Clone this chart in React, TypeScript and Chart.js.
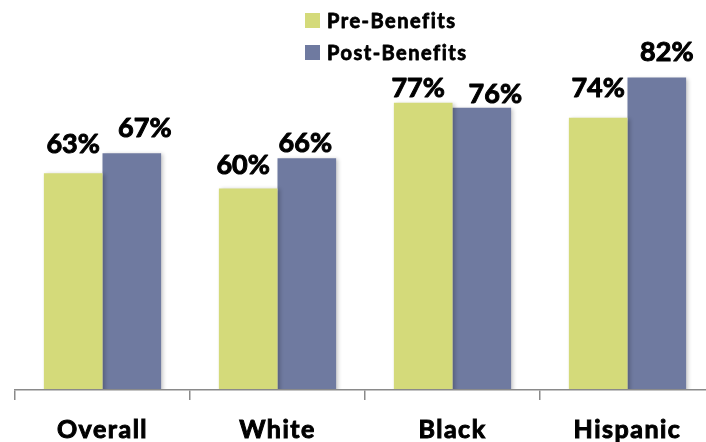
import React, { useEffect, useRef } from "react";
import { Chart, registerables } from "chart.js";

Chart.register(...registerables);

// Group names along the bottom axis
const categories = ["Overall", "White", "Black", "Hispanic"];
// Share (%) before and after benefits
const preBenefits = [63, 60, 77, 74];
const postBenefits = [67, 66, 76, 82];
const seriesNames = ["Pre-Benefits", "Post-Benefits"];

// Hand placement of each value label: [horizontal shift, gap above the bar]
const preLabelNudge = [[0, 20], [-5, 14], [-5, 6], [0, 21]];
const postLabelNudge = [[13, 16], [-1.5, 6], [13.5, 5], [10, 17]];

const PRE_COLOR = "#D4DA7A";
const POST_COLOR = "#6F7AA0";
const FONT = "Lato, 'Open Sans', sans-serif";

// Bold text with a thin outline in the same colour, for a heavier look
function heavyText(ctx: CanvasRenderingContext2D, text: string, x: number, y: number, stroke: number) {
  ctx.fillText(text, x, y);
  ctx.lineWidth = stroke;
  ctx.strokeStyle = ctx.fillStyle as string;
  ctx.lineJoin = "round";
  ctx.strokeText(text, x, y);
}

// Wider tracking for the axis labels
const tracking = {
  id: "tracking",
  beforeDraw(chart: any) {
    (chart.ctx as any).letterSpacing = "1.5px";
  },
  afterDraw(chart: any) {
    (chart.ctx as any).letterSpacing = "0px";
  },
};

const barShadow = {
  id: "barShadow",
  beforeDatasetsDraw(chart: any) {
    const ctx = chart.ctx;
    ctx.save();
    ctx.shadowColor = "rgba(0,0,0,0.22)";
    ctx.shadowBlur = 4;
    ctx.shadowOffsetX = 2;
    ctx.shadowOffsetY = 1;
  },
  afterDatasetsDraw(chart: any) {
    chart.ctx.restore();
  },
};

const valueLabels = {
  id: "valueLabels",
  afterDatasetsDraw(chart: any) {
    const ctx = chart.ctx;
    const nudges = [preLabelNudge, postLabelNudge];
    ctx.save();
    (ctx as any).letterSpacing = "0px";
    ctx.font = `bold 27px ${FONT}`;
    ctx.fillStyle = "#000";
    ctx.textAlign = "center";
    ctx.textBaseline = "alphabetic";
    chart.data.datasets.forEach((ds: any, di: number) => {
      const meta = chart.getDatasetMeta(di);
      meta.data.forEach((bar: any, i: number) => {
        const [dx, gap] = nudges[di][i];
        heavyText(ctx, `${ds.data[i]}%`, bar.x + dx, bar.y - gap, 1);
      });
    });
    ctx.restore();
  },
};

const stackedLegend = {
  id: "stackedLegend",
  afterDraw(chart: any) {
    const ctx = chart.ctx;
    const left = chart.chartArea.left + 290;
    ctx.save();
    (ctx as any).letterSpacing = "1.5px";
    ctx.font = `bold 20px ${FONT}`;
    ctx.textAlign = "left";
    ctx.textBaseline = "alphabetic";
    chart.data.datasets.forEach((ds: any, i: number) => {
      const top = 13 + i * 32;
      ctx.fillStyle = ds.backgroundColor;
      ctx.fillRect(left, top, 15, 15);
      ctx.fillStyle = "#000";
      heavyText(ctx, ds.label, left + 22, top + 15, 0.8);
    });
    ctx.restore();
  },
};

export default function App() {
  const canvasRef = useRef<HTMLCanvasElement | null>(null);

  useEffect(() => {
    let chart: Chart | null = null;
    let cancelled = false;
    const build = () => {
      if (cancelled || !canvasRef.current) return;
      chart = new Chart(canvasRef.current, {
        type: "bar",
        data: {
          labels: categories,
          datasets: [
            { label: seriesNames[0], data: preBenefits, backgroundColor: PRE_COLOR },
            { label: seriesNames[1], data: postBenefits, backgroundColor: POST_COLOR },
          ],
        },
        options: {
          responsive: false,
          animation: false,
          devicePixelRatio: 1,
          layout: { padding: { left: 15, right: 5, top: 7, bottom: 0 } },
          datasets: { bar: { categoryPercentage: 0.67, barPercentage: 1.0 } },
          plugins: { legend: { display: false }, tooltip: { enabled: false } },
          scales: {
            x: {
              offset: true,
              grid: {
                z: 1,
                offset: true,
                drawOnChartArea: false,
                drawTicks: true,
                tickLength: 10,
                color: "#8a8a8a",
                lineWidth: 1.5,
              },
              border: { z: 1, display: true, color: "#8a8a8a", width: 1.5 },
              ticks: {
                color: "#000",
                padding: 15,
                textStrokeColor: "#000",
                textStrokeWidth: 1,
                font: { family: FONT, weight: "bold", size: 25 },
              },
              afterFit: (scale: any) => {
                scale.height = 60;
              },
            },
            y: { display: false, min: 20, max: 96 },
          },
        },
        plugins: [tracking, barShadow, valueLabels, stackedLegend],
      });
    };
    const fonts = (document as any).fonts;
    if (fonts && fonts.load) {
      Promise.all([fonts.load(`bold 20px Lato`), fonts.load(`bold 27px Lato`)])
        .catch(() => null)
        .then(build);
    } else {
      build();
    }
    return () => {
      cancelled = true;
      if (chart) chart.destroy();
    };
  }, []);

  return (
    <div
      style={{
        position: "fixed",
        left: 0,
        top: 0,
        width: 706,
        height: 442,
        overflow: "hidden",
        background: "#fff",
      }}
    >
      <canvas ref={canvasRef} width={720} height={450} style={{ display: "block" }} />
    </div>
  );
}
